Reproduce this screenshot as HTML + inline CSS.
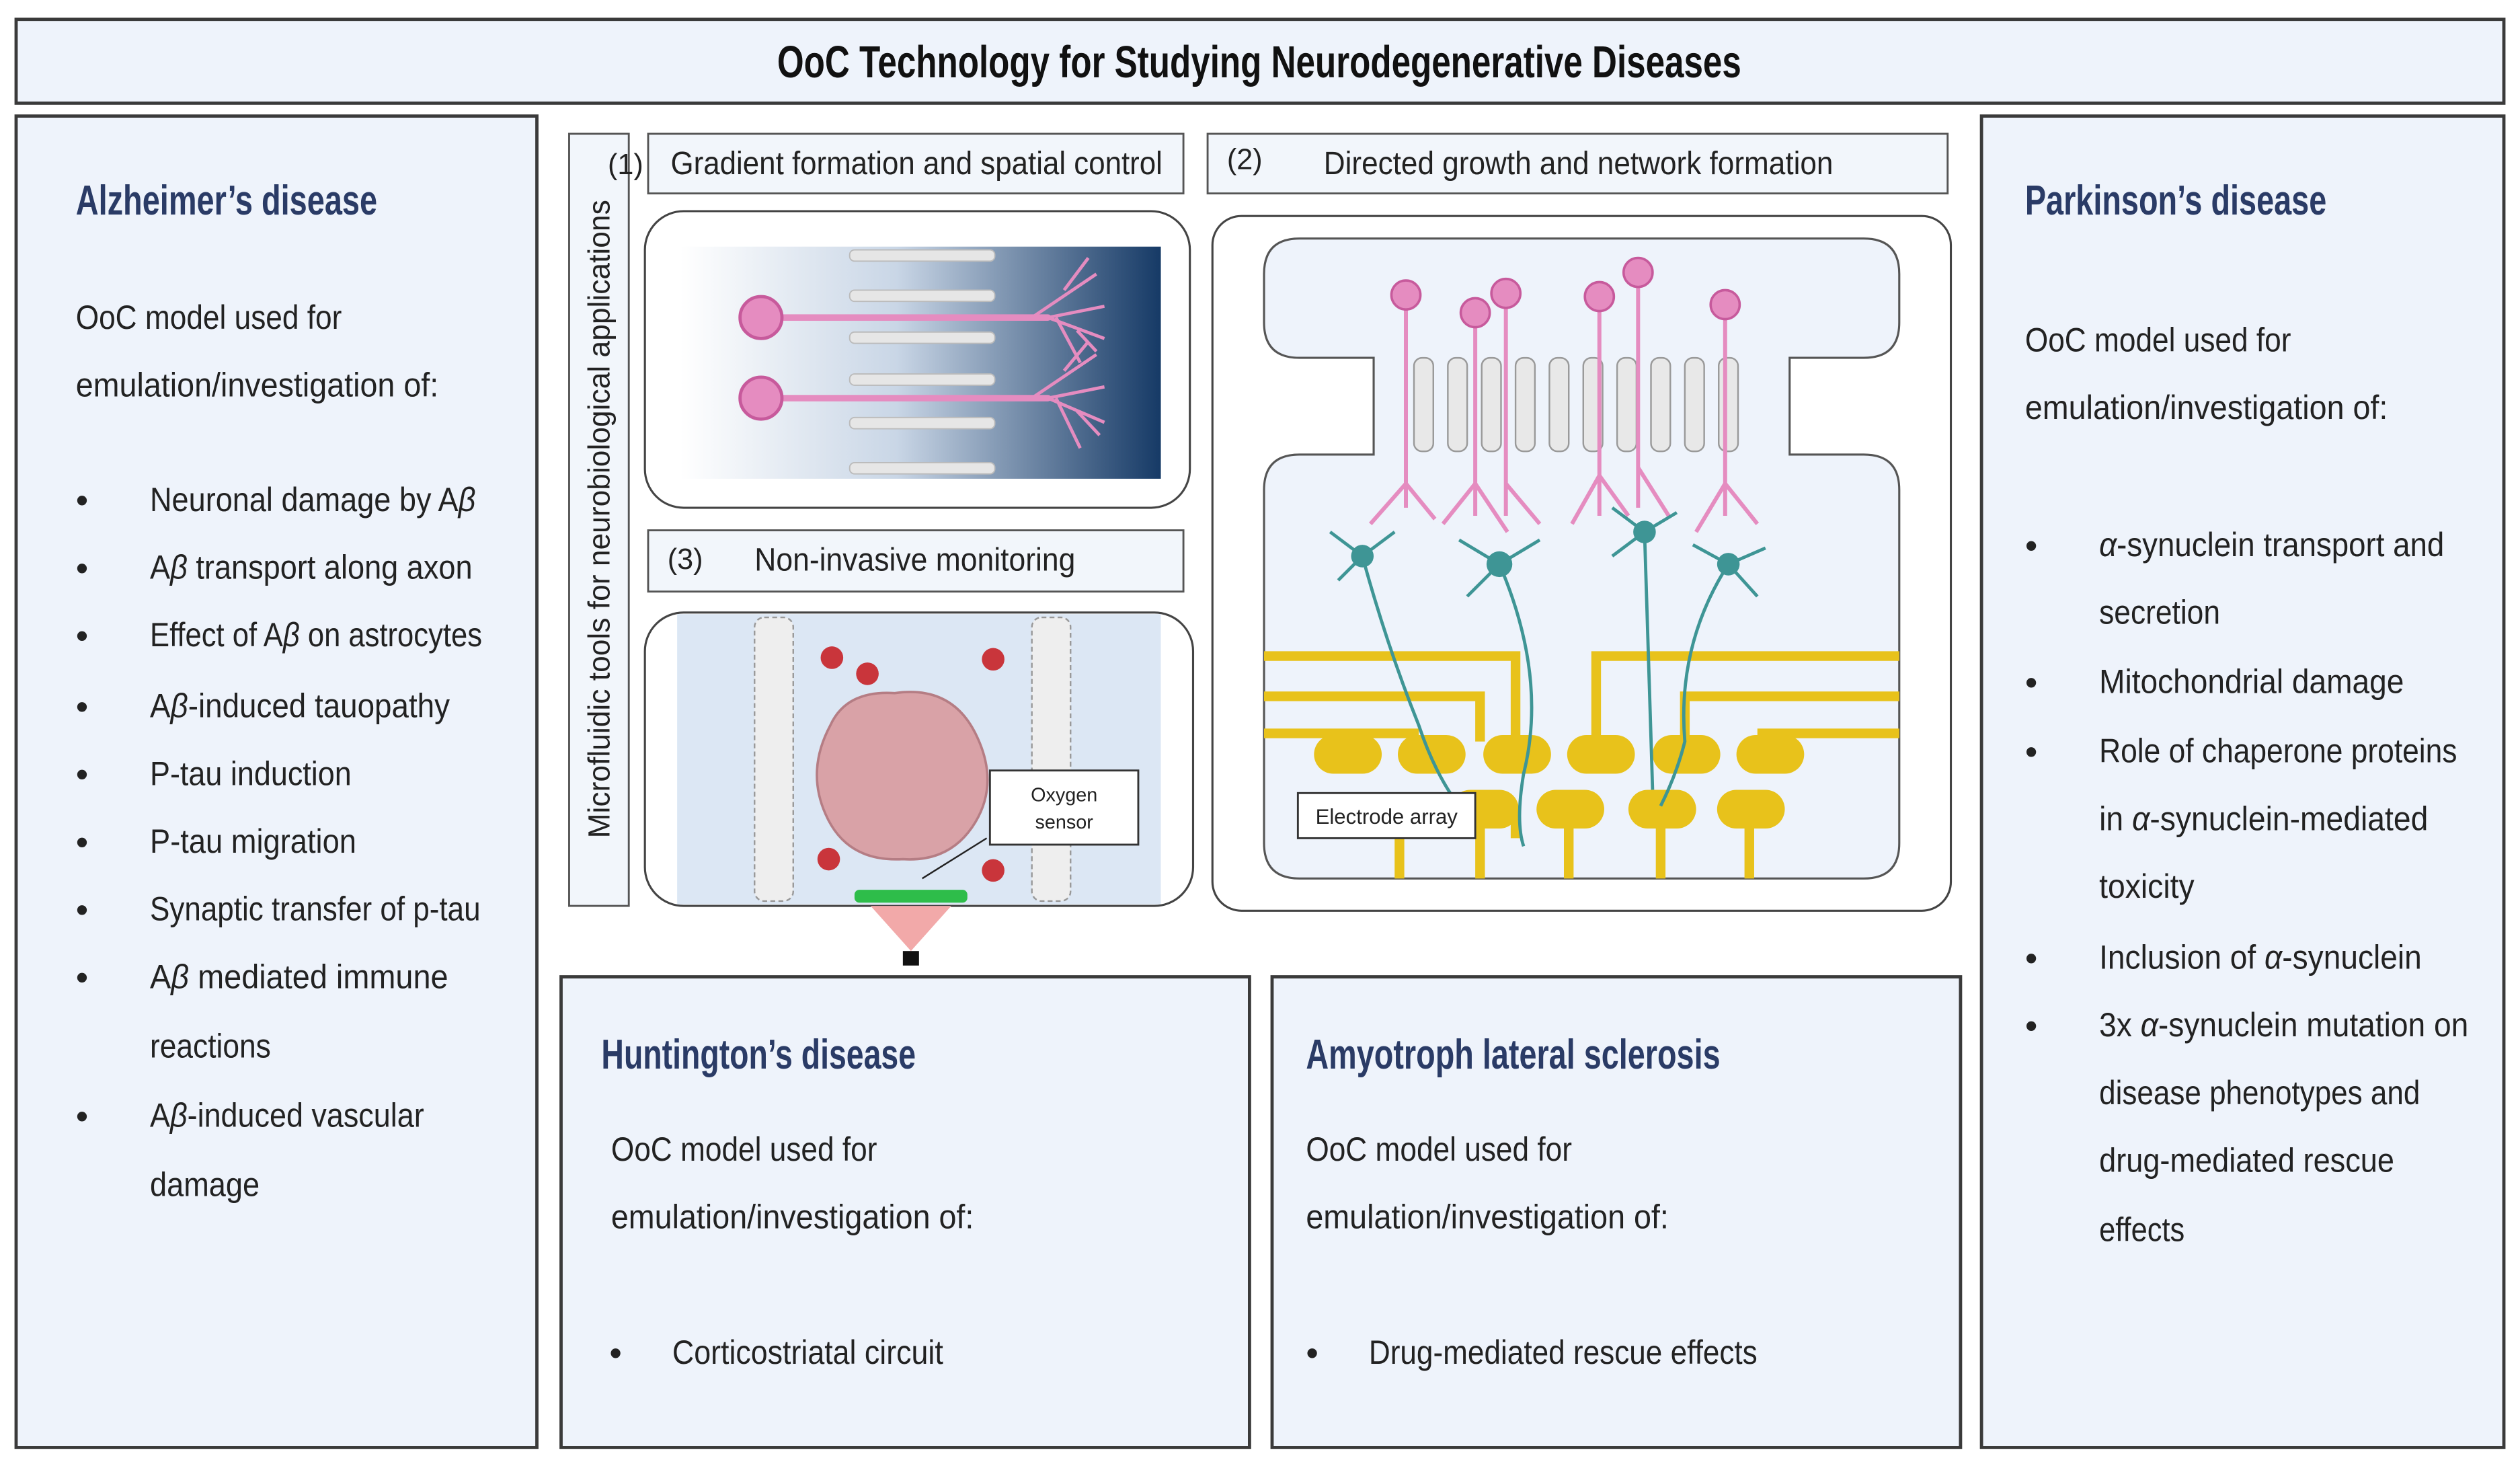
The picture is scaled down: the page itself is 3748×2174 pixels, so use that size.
<!DOCTYPE html>
<html><head><meta charset="utf-8"><style>
html,body{margin:0;padding:0;background:#fff;}
svg{display:block;}
text{font-family:"Liberation Sans",sans-serif;}
</style></head><body>
<svg width="3748" height="2174" viewBox="0 0 1563 907" preserveAspectRatio="none" xmlns="http://www.w3.org/2000/svg">
<defs>
<linearGradient id="g1" x1="0" x2="1" y1="0" y2="0"><stop offset="0" stop-color="#ffffff"/><stop offset="0.45" stop-color="#c9d6e6"/><stop offset="1" stop-color="#163a66"/></linearGradient>
</defs>
<rect width="1563" height="907" fill="#fff"/>
<g fill="#eef3fb" stroke="#3a3a3a" stroke-width="2">
<rect x="10" y="12" width="1543" height="52"/>
<rect x="10" y="72" width="323" height="826"/>
<rect x="1229" y="72" width="324" height="826"/>
<rect x="348" y="606" width="427" height="292"/>
<rect x="789" y="606" width="427" height="292"/>
</g>
<text x="781" y="48" font-size="28" font-weight="bold" text-anchor="middle" textLength="598" lengthAdjust="spacingAndGlyphs" fill="#111">OoC Technology for Studying Neurodegenerative Diseases</text>

<!-- Alzheimer -->
<g fill="#222" font-size="21">
<text x="47" y="133" font-size="26" font-weight="bold" fill="#2a3b66" textLength="187" lengthAdjust="spacingAndGlyphs">Alzheimer’s disease</text>
<text x="47" y="204" textLength="165" lengthAdjust="spacingAndGlyphs">OoC model used for</text>
<text x="47" y="246" textLength="225" lengthAdjust="spacingAndGlyphs">emulation/investigation of:</text>
<g font-size="22"><text x="47" y="318">•</text><text x="47" y="360">•</text><text x="47" y="402">•</text><text x="47" y="446">•</text><text x="47" y="488">•</text><text x="47" y="530">•</text><text x="47" y="572">•</text><text x="47" y="614">•</text><text x="47" y="700">•</text></g>
<text x="93" y="317" textLength="202" lengthAdjust="spacingAndGlyphs">Neuronal damage by A<tspan font-style="italic">β</tspan></text>
<text x="93" y="359" textLength="200" lengthAdjust="spacingAndGlyphs">A<tspan font-style="italic">β</tspan> transport along axon</text>
<text x="93" y="401" textLength="206" lengthAdjust="spacingAndGlyphs">Effect of A<tspan font-style="italic">β</tspan> on astrocytes</text>
<text x="93" y="445" textLength="186" lengthAdjust="spacingAndGlyphs">A<tspan font-style="italic">β</tspan>-induced tauopathy</text>
<text x="93" y="487" textLength="125" lengthAdjust="spacingAndGlyphs">P-tau induction</text>
<text x="93" y="529" textLength="128" lengthAdjust="spacingAndGlyphs">P-tau migration</text>
<text x="93" y="571" textLength="205" lengthAdjust="spacingAndGlyphs">Synaptic transfer of p-tau</text>
<text x="93" y="613" textLength="185" lengthAdjust="spacingAndGlyphs">A<tspan font-style="italic">β</tspan> mediated immune</text>
<text x="93" y="656" textLength="75" lengthAdjust="spacingAndGlyphs">reactions</text>
<text x="93" y="699" textLength="170" lengthAdjust="spacingAndGlyphs">A<tspan font-style="italic">β</tspan>-induced vascular</text>
<text x="93" y="742" textLength="68" lengthAdjust="spacingAndGlyphs">damage</text>
</g>

<!-- Parkinson -->
<g fill="#222" font-size="21">
<text x="1256" y="133" font-size="26" font-weight="bold" fill="#2a3b66" textLength="187" lengthAdjust="spacingAndGlyphs">Parkinson’s disease</text>
<text x="1256" y="218" textLength="165" lengthAdjust="spacingAndGlyphs">OoC model used for</text>
<text x="1256" y="260" textLength="225" lengthAdjust="spacingAndGlyphs">emulation/investigation of:</text>
<g font-size="22"><text x="1256" y="346">•</text><text x="1256" y="431">•</text><text x="1256" y="474">•</text><text x="1256" y="602">•</text><text x="1256" y="644">•</text></g>
<text x="1302" y="345" textLength="214" lengthAdjust="spacingAndGlyphs"><tspan font-style="italic">α</tspan>-synuclein transport and</text>
<text x="1302" y="387" textLength="75" lengthAdjust="spacingAndGlyphs">secretion</text>
<text x="1302" y="430" textLength="189" lengthAdjust="spacingAndGlyphs">Mitochondrial damage</text>
<text x="1302" y="473" textLength="222" lengthAdjust="spacingAndGlyphs">Role of chaperone proteins</text>
<text x="1302" y="515" textLength="204" lengthAdjust="spacingAndGlyphs">in <tspan font-style="italic">α</tspan>-synuclein-mediated</text>
<text x="1302" y="557" textLength="59" lengthAdjust="spacingAndGlyphs">toxicity</text>
<text x="1302" y="601" textLength="200" lengthAdjust="spacingAndGlyphs">Inclusion of <tspan font-style="italic">α</tspan>-synuclein</text>
<text x="1302" y="643" textLength="229" lengthAdjust="spacingAndGlyphs">3x <tspan font-style="italic">α</tspan>-synuclein mutation on</text>
<text x="1302" y="685" textLength="199" lengthAdjust="spacingAndGlyphs">disease phenotypes and</text>
<text x="1302" y="727" textLength="183" lengthAdjust="spacingAndGlyphs">drug-mediated rescue</text>
<text x="1302" y="770" textLength="53" lengthAdjust="spacingAndGlyphs">effects</text>
</g>

<!-- Huntington / ALS -->
<g fill="#222" font-size="21">
<text x="373" y="663" font-size="26" font-weight="bold" fill="#2a3b66" textLength="195" lengthAdjust="spacingAndGlyphs">Huntington’s disease</text>
<text x="379" y="720" textLength="165" lengthAdjust="spacingAndGlyphs">OoC model used for</text>
<text x="379" y="762" textLength="225" lengthAdjust="spacingAndGlyphs">emulation/investigation of:</text>
<text x="378" y="847" font-size="22">•</text>
<text x="417" y="846" textLength="168" lengthAdjust="spacingAndGlyphs">Corticostriatal circuit</text>
<text x="810" y="663" font-size="26" font-weight="bold" fill="#2a3b66" textLength="257" lengthAdjust="spacingAndGlyphs">Amyotroph lateral sclerosis</text>
<text x="810" y="720" textLength="165" lengthAdjust="spacingAndGlyphs">OoC model used for</text>
<text x="810" y="762" textLength="225" lengthAdjust="spacingAndGlyphs">emulation/investigation of:</text>
<text x="810" y="847" font-size="22">•</text>
<text x="849" y="846" textLength="241" lengthAdjust="spacingAndGlyphs">Drug-mediated rescue effects</text>
</g>

<!-- center labels -->
<g fill="#f2f6fb" stroke="#555" stroke-width="1.2">
<rect x="353" y="83" width="37" height="479"/>
<rect x="402" y="83" width="332" height="37"/>
<rect x="402" y="329" width="332" height="38"/>
<rect x="749" y="83" width="459" height="37"/>
</g>
<text transform="translate(378,520) rotate(-90)" font-size="19" fill="#222" textLength="396" lengthAdjust="spacingAndGlyphs">Microfluidic tools for neurobiological applications</text>
<g fill="#222" font-size="18">
<text x="377" y="108">(1)</text>
<text x="416" y="108" font-size="20" textLength="305" lengthAdjust="spacingAndGlyphs">Gradient formation and spatial control</text>
<text x="414" y="353">(3)</text>
<text x="468" y="354" font-size="20" textLength="199" lengthAdjust="spacingAndGlyphs">Non-invasive monitoring</text>
<text x="761" y="105">(2)</text>
<text x="821" y="108" font-size="20" textLength="316" lengthAdjust="spacingAndGlyphs">Directed growth and network formation</text>
</g>

<!-- Figure 1 -->
<rect x="400" y="131" width="338" height="184" rx="24" fill="#fff" stroke="#444" stroke-width="1.3"/>
<rect x="422" y="153" width="298" height="144" fill="url(#g1)"/>
<g fill="#e6e6e6" stroke="#bbb" stroke-width="0.8">
<rect x="527" y="155" width="90" height="7" rx="3"/><rect x="527" y="180" width="90" height="7" rx="3"/><rect x="527" y="206" width="90" height="7" rx="3"/><rect x="527" y="232" width="90" height="7" rx="3"/><rect x="527" y="259" width="90" height="7" rx="3"/><rect x="527" y="287" width="90" height="7" rx="3"/>
</g>
<g stroke="#e58cc0" stroke-width="4" fill="none" stroke-linecap="round">
<path d="M473 197 L650 197"/><path d="M473 247 L650 247"/>
</g>
<g stroke="#e58cc0" stroke-width="2" fill="none">
<path d="M640 197 L680 170 M650 197 L685 190 M650 197 L685 210 M655 197 L670 225 M660 180 L675 160 M668 205 L680 218"/>
<path d="M640 247 L680 220 M650 247 L685 240 M650 247 L685 262 M655 247 L670 278 M660 230 L675 212 M668 255 L682 270"/>
</g>
<circle cx="472" cy="197" r="13" fill="#e58cc0" stroke="#c75a9c" stroke-width="2"/>
<circle cx="472" cy="247" r="13" fill="#e58cc0" stroke="#c75a9c" stroke-width="2"/>

<!-- Figure 3 -->
<rect x="400" y="380" width="340" height="182" rx="24" fill="#fff" stroke="#444" stroke-width="1.3"/>
<rect x="420" y="381" width="300" height="180" fill="#dce7f4"/>
<rect x="468" y="383" width="24" height="176" rx="6" fill="#eee" stroke="#999" stroke-dasharray="3 2"/>
<rect x="640" y="383" width="24" height="176" rx="6" fill="#eee" stroke="#999" stroke-dasharray="3 2"/>
<path d="M515 450 Q525 428 555 430 Q590 425 605 455 Q620 485 605 510 Q590 535 560 533 Q525 535 512 505 Q500 478 515 450Z" fill="#d9a2a7" stroke="#b57d84" stroke-width="1.5"/>
<g fill="#c9353b"><circle cx="516" cy="408" r="7"/><circle cx="538" cy="418" r="7"/><circle cx="616" cy="409" r="7"/><circle cx="514" cy="533" r="7"/><circle cx="616" cy="540" r="7"/></g>
<rect x="614" y="478" width="92" height="46" fill="#fff" stroke="#333" stroke-width="1.2"/>
<text x="660" y="497" font-size="12" text-anchor="middle" fill="#222">Oxygen</text>
<text x="660" y="514" font-size="12" text-anchor="middle" fill="#222">sensor</text>
<line x1="612" y1="520" x2="572" y2="545" stroke="#222" stroke-width="1"/>
<path d="M540 562 L590 562 L565 590Z" fill="#f2a9a9"/>
<rect x="530" y="552" width="70" height="8" rx="3" fill="#2ebd4a"/>
<rect x="560" y="590" width="10" height="9" fill="#111"/>

<!-- Figure 2 -->
<rect x="752" y="134" width="458" height="431" rx="18" fill="#fff" stroke="#444" stroke-width="1.3"/>
<path d="M806 148 L1156 148 Q1178 148 1178 170 L1178 200 Q1178 222 1156 222 L1110 222 L1110 282 L1156 282 Q1178 282 1178 304 L1178 523 Q1178 545 1156 545 L806 545 Q784 545 784 523 L784 304 Q784 282 806 282 L852 282 L852 222 L806 222 Q784 222 784 200 L784 170 Q784 148 806 148Z" fill="#eef3fb" stroke="#555" stroke-width="1.3"/>
<g fill="#e8e8e8" stroke="#999" stroke-width="1">
<rect x="877" y="222" width="12" height="58" rx="5"/><rect x="898" y="222" width="12" height="58" rx="5"/><rect x="919" y="222" width="12" height="58" rx="5"/><rect x="940" y="222" width="12" height="58" rx="5"/><rect x="961" y="222" width="12" height="58" rx="5"/><rect x="982" y="222" width="12" height="58" rx="5"/><rect x="1003" y="222" width="12" height="58" rx="5"/><rect x="1024" y="222" width="12" height="58" rx="5"/><rect x="1045" y="222" width="12" height="58" rx="5"/><rect x="1066" y="222" width="12" height="58" rx="5"/>
</g>
<g stroke="#e8c21b" stroke-width="6" fill="none">
<path d="M784 407 L940 407 L940 460 M784 432 L918 432 L918 460 M784 455 L880 455 M1178 407 L990 407 L990 460 M1178 432 L1045 432 L1045 460 M1178 455 L1090 455"/>
<path d="M868 520 L868 545 M918 495 L918 545 M973 510 L973 545 M1030 510 L1030 545 M1085 510 L1085 545 M940 505 L940 520"/>
</g>
<g fill="#e8c21b">
<rect x="815" y="456" width="42" height="24" rx="12"/><rect x="867" y="456" width="42" height="24" rx="12"/><rect x="920" y="456" width="42" height="24" rx="12"/><rect x="972" y="456" width="42" height="24" rx="12"/><rect x="1025" y="456" width="42" height="24" rx="12"/><rect x="1077" y="456" width="42" height="24" rx="12"/>
<rect x="900" y="490" width="42" height="24" rx="12"/><rect x="953" y="490" width="42" height="24" rx="12"/><rect x="1010" y="490" width="42" height="24" rx="12"/><rect x="1065" y="490" width="42" height="24" rx="12"/>
</g>
<g stroke="#e58cc0" stroke-width="2.5" fill="none">
<path d="M872 185 L872 315 M915 195 L915 320 M934 183 L934 320 M992 185 L992 320 M1016 170 L1016 315 M1070 190 L1070 320"/>
<path d="M872 300 L850 325 M872 300 L890 322 M915 300 L895 325 M915 300 L935 330 M934 300 L955 325 M992 295 L975 325 M992 295 L1010 320 M1016 290 L1035 320 M1070 300 L1090 325 M1070 300 L1052 330"/>
</g>
<g fill="#e58cc0" stroke="#c75a9c" stroke-width="1.5">
<circle cx="872" cy="183" r="9"/><circle cx="915" cy="194" r="9"/><circle cx="934" cy="182" r="9"/><circle cx="992" cy="184" r="9"/><circle cx="1016" cy="169" r="9"/><circle cx="1070" cy="189" r="9"/>
</g>
<g stroke="#3e9595" stroke-width="2" fill="none">
<path d="M845 345 Q860 400 880 450 Q890 480 905 500"/><path d="M930 350 Q960 420 945 480 Q940 510 945 525"/><path d="M1020 330 L1025 490"/><path d="M1072 350 Q1040 400 1045 460 Q1040 480 1030 500"/>
<path d="M845 345 L825 330 M845 345 L830 360 M845 345 L865 330 M930 350 L905 335 M930 350 L955 335 M930 350 L910 370 M1020 330 L1000 315 M1020 330 L1040 318 M1020 330 L1000 345 M1072 350 L1050 338 M1072 350 L1095 340 M1072 350 L1090 370"/>
</g>
<g fill="#3e9595"><circle cx="845" cy="345" r="7"/><circle cx="930" cy="350" r="8"/><circle cx="1020" cy="330" r="7"/><circle cx="1072" cy="350" r="7"/></g>
<rect x="805" y="492" width="110" height="28" fill="#fff" stroke="#333" stroke-width="1.2"/>
<text x="860" y="511" font-size="13" text-anchor="middle" fill="#222">Electrode array</text>
</svg>
</body></html>
